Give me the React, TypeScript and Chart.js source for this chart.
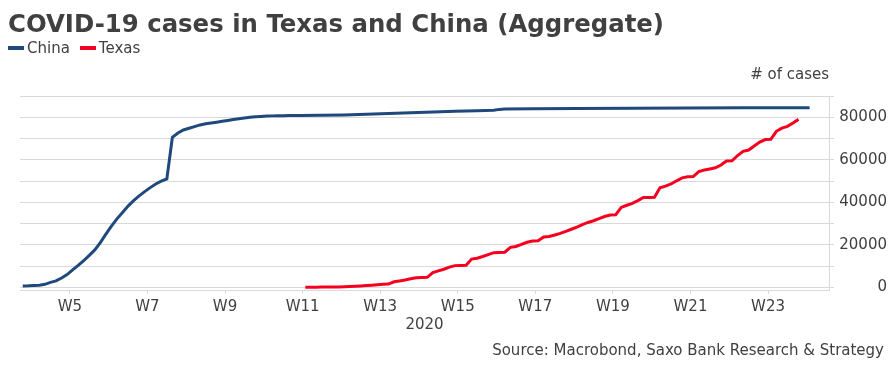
import React, { useEffect, useRef } from "react";
import { Chart, registerables } from "chart.js";

Chart.register(...registerables);

// Day index 0 = 22 Jan 2020
const chinaDays = [
  0, 1, 2, 3, 4, 5, 6, 7, 8, 9, 10, 11, 12, 13, 14, 15, 16, 17, 18, 19, 20,
  21, 22, 23, 24, 25, 26, 27, 28, 29, 30, 31, 32, 33, 34, 35, 36, 37, 38, 39,
  40, 41, 42, 43, 44, 45, 46, 47, 48, 49, 50, 54, 58, 62, 66, 70, 74, 78, 82,
  85, 86, 87, 92, 100, 110, 120, 130, 142,
];
const chinaCases = [
  600, 700, 900, 1000, 1400, 2300, 3000, 4400, 6000, 8200, 10300, 12600, 15000,
  17600, 21000, 25000, 28800, 32200, 35200, 38200, 40800, 43000, 45000, 46900,
  48600, 49900, 51000, 70600, 72600, 74000, 74800, 75600, 76400, 76900, 77300,
  77700, 78100, 78500, 78900, 79300, 79700, 80000, 80200, 80400, 80550, 80650,
  80700, 80750, 80800, 80820, 80850, 80950, 81100, 81400, 81750, 82100, 82450,
  82800, 83100, 83300, 83700, 83900, 83980, 84150, 84250, 84350, 84450, 84500,
];

const texasStartDay = 51;
const texasCases = [
  50, 60, 80, 100, 120, 150, 200, 250, 350, 500, 650, 800, 1000, 1200, 1450,
  1500, 2600, 3000, 3400, 4000, 4500, 4600, 4700, 6900, 7700, 8500, 9500, 10200,
  10300, 10400, 13300, 13700, 14500, 15400, 16300, 16400, 16500, 18800, 19200,
  20200, 21200, 21800, 21900, 23700, 23900, 24600, 25400, 26300, 27300, 28300,
  29500, 30500, 31300, 32300, 33300, 34000, 34100, 37600, 38600, 39500, 40800,
  42300, 42300, 42400, 46800, 47600, 48600, 50100, 51500, 52000, 52100, 54400,
  55200, 55700, 56200, 57500, 59400, 59500, 62000, 64000, 64600, 66500, 68300,
  69500, 69600, 73400, 74900, 75700, 77300, 79000,
];

// ISO week labels; W5 starts Monday 27 Jan (day 5); label at mid-week
const weekNumbers = [5, 7, 9, 11, 13, 15, 17, 19, 21, 23];
const firstWeekMonday = 5;
const yTickValues = [0, 10000, 20000, 30000, 40000, 50000, 60000, 70000, 80000, 90000];

const seriesNames = ["China", "Texas"];
const seriesColors = ["#1F497D", "#F5001E"];

const TEXT = "#404040";
const FONT = "'DejaVu Sans', Verdana, sans-serif";

export default function App() {
  const ref = useRef<HTMLCanvasElement | null>(null);

  useEffect(() => {
    if (!ref.current) return;
    const weekTicks = weekNumbers.map((w) => ({
      value: firstWeekMonday + 7 * (w - 5) + 3.5,
      label: "W" + w,
    }));
    const chart = new Chart(ref.current, {
      type: "line",
      data: {
        datasets: [
          {
            label: seriesNames[0],
            data: chinaDays.map((d, i) => ({ x: d, y: chinaCases[i] })),
            borderColor: seriesColors[0],
            backgroundColor: seriesColors[0],
            borderWidth: 3,
            pointRadius: 0,
            tension: 0,
          },
          {
            label: seriesNames[1],
            data: texasCases.map((v, i) => ({ x: texasStartDay + i, y: v })),
            borderColor: seriesColors[1],
            backgroundColor: seriesColors[1],
            borderWidth: 3,
            pointRadius: 0,
            tension: 0,
          },
        ],
      },
      options: {
        animation: false,
        responsive: false,
        devicePixelRatio: 1,
        layout: { padding: { left: 20, top: 96, right: 8, bottom: 36 } },
        plugins: {
          legend: { display: false },
          title: { display: false },
          tooltip: { enabled: false },
        },
        scales: {
          x: {
            type: "linear",
            min: -0.5,
            max: 145.5,
            afterBuildTicks: (scale: any) => {
              scale.ticks = weekTicks.map((t) => ({ value: t.value }));
            },
            afterFit: (scale: any) => {
              scale.height = 44;
            },
            ticks: {
              color: TEXT,
              font: { family: FONT, size: 15 },
              padding: 4,
              maxRotation: 0,
              autoSkip: false,
              callback: (v: any) => {
                const t = weekTicks.find((w) => Math.abs(w.value - v) < 0.01);
                return t ? t.label : "";
              },
            },
            grid: {
              drawOnChartArea: false,
              drawTicks: true,
              tickLength: 4,
              color: "#d9d9d9",
            },
            border: { display: true, color: "#d9d9d9", width: 1 },
            title: {
              display: true,
              text: "2020",
              color: TEXT,
              font: { family: FONT, size: 15 },
              padding: { top: 2, bottom: 0 },
            },
          },
          y: {
            position: "right",
            min: -1270,
            max: 90000,
            afterBuildTicks: (scale: any) => {
              scale.ticks = yTickValues.map((v) => ({ value: v }));
            },
            afterFit: (scale: any) => {
              scale.width = 58;
            },
            ticks: {
              color: TEXT,
              font: { family: FONT, size: 15 },
              crossAlign: "far",
              padding: 5,
              callback: (v: any) => (v % 20000 === 0 && v <= 80000 ? String(v) : ""),
            },
            grid: {
              color: "#d9d9d9",
              lineWidth: 1,
              drawTicks: true,
              tickLength: 5,
            },
            border: { display: true, color: "#d9d9d9", width: 1 },
          },
        },
      },
    });
    return () => chart.destroy();
  }, []);

  return (
    <div
      style={{
        position: "absolute",
        left: 0,
        top: 0,
        width: 895,
        height: 370,
        background: "#fff",
        fontFamily: FONT,
        color: TEXT,
        overflow: "hidden",
      }}
    >
      <canvas
        ref={ref}
        width={895}
        height={370}
        style={{ position: "absolute", left: 0, top: 0, width: 895, height: 370 }}
      />
      <div
        style={{
          position: "absolute",
          left: 8,
          top: 11,
          fontSize: 24.4,
          lineHeight: "25px",
          fontWeight: "bold",
          whiteSpace: "nowrap",
        }}
      >
        COVID-19 cases in Texas and China (Aggregate)
      </div>
      <div
        style={{
          position: "absolute",
          left: 8,
          top: 40.5,
          fontSize: 15,
          lineHeight: "15px",
          display: "flex",
          alignItems: "center",
          whiteSpace: "nowrap",
        }}
      >
        {seriesNames.map((n, i) => (
          <span key={n} style={{ display: "inline-flex", alignItems: "center", marginRight: 10 }}>
            <span
              style={{
                display: "inline-block",
                width: 16,
                height: 4,
                background: seriesColors[i],
                marginRight: 3,
              }}
            />
            {n}
          </span>
        ))}
      </div>
      <div
        style={{
          position: "absolute",
          right: 66,
          top: 67.3,
          fontSize: 15,
          lineHeight: "15px",
          whiteSpace: "nowrap",
        }}
      >
        # of cases
      </div>
      <div
        style={{
          position: "absolute",
          right: 11,
          top: 343.3,
          fontSize: 15,
          lineHeight: "15px",
          whiteSpace: "nowrap",
        }}
      >
        Source: Macrobond, Saxo Bank Research &amp; Strategy
      </div>
    </div>
  );
}
